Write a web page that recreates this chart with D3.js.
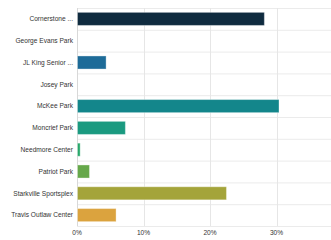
<!DOCTYPE html>
<html>
<head>
<meta charset="utf-8">
<script src="https://cdn.jsdelivr.net/npm/d3@7"></script>
<style>
  body { margin: 0; background: #fff; }
  text { font-family: "Helvetica Neue", "Liberation Sans", Arial, sans-serif; }
</style>
</head>
<body>
<div class="container"></div>
<script>
var categories = ['Cornerstone ...', 'George Evans Park', 'JL King Senior ...', 'Josey Park', 'McKee Park',
    'Moncrief Park', 'Needmore Center', 'Patriot Park', 'Starkville Sportsplex', 'Travis Outlaw Center'];
var values = [28.1, 0, 4.3, 0, 30.3, 7.2, 0.4, 1.8, 22.4, 5.8];
var colors = ['#0f2b3f', '#1d6b98', '#1d6b98', '#17858c', '#13868b', '#1a9a80', '#27a86b', '#66a84a', '#a4a43a', '#dba33e'];
var xTicks = [0, 10, 20, 30, 40];

var drawChart = function () {
    var WIDTH = 331, HEIGHT = 240;
    var LEFT = 77, TOP = 8, BOTTOM = 226;

    var svg = d3.select('.container').append('svg')
        .attr('width', WIDTH).attr('height', HEIGHT);

    var x = d3.scaleLinear().domain([0, 10]).range([LEFT, LEFT + 66.5]);
    var y = d3.scaleBand().domain(categories).range([TOP, BOTTOM]).paddingInner(0.4).paddingOuter(0.2);
    var rows = d3.scaleBand().domain(categories).range([TOP, BOTTOM]);

    // horizontal row lines
    svg.append('g').selectAll('line')
        .data(categories.concat(['end']))
        .enter().append('line')
        .attr('x1', LEFT).attr('x2', WIDTH)
        .attr('y1', function (d, i) { return TOP + i * rows.step() + 0.5; })
        .attr('y2', function (d, i) { return TOP + i * rows.step() + 0.5; })
        .attr('stroke', '#ebebeb');

    // vertical grid
    svg.append('g').selectAll('line')
        .data(xTicks)
        .enter().append('line')
        .attr('x1', function (d) { return Math.round(x(d)) + 0.5; })
        .attr('x2', function (d) { return Math.round(x(d)) + 0.5; })
        .attr('y1', TOP).attr('y2', BOTTOM)
        .attr('stroke', function (d) { return d === 0 ? '#d8d8d8' : '#e6e6e6'; });

    svg.append('g').selectAll('rect')
        .data(values)
        .enter().append('rect')
        .attr('x', x(0) + 0.5)
        .attr('y', function (d, i) { return y(categories[i]); })
        .attr('width', function (d) { return Math.max(0, x(d) - x(0)); })
        .attr('height', y.bandwidth())
        .attr('fill', function (d, i) { return colors[i]; })
        .attr('stroke', 'rgba(255,255,255,0.35)')
        .attr('stroke-width', 1);

    svg.append('g').selectAll('text')
        .data(categories)
        .enter().append('text')
        .attr('x', LEFT - 4)
        .attr('y', function (d) { return rows(d) + rows.bandwidth() / 2; })
        .attr('dy', '0.35em')
        .attr('text-anchor', 'end')
        .attr('font-size', 6.6)
        .attr('fill', '#333')
        .text(function (d) { return d; });

    svg.append('g').selectAll('text')
        .data(xTicks.slice(0, 4))
        .enter().append('text')
        .attr('x', function (d) { return x(d); })
        .attr('y', 235)
        .attr('text-anchor', 'middle')
        .attr('font-size', 6.6)
        .attr('fill', '#333')
        .text(function (d) { return d + '%'; });
};

window.onload = drawChart;
</script>
</body>
</html>
